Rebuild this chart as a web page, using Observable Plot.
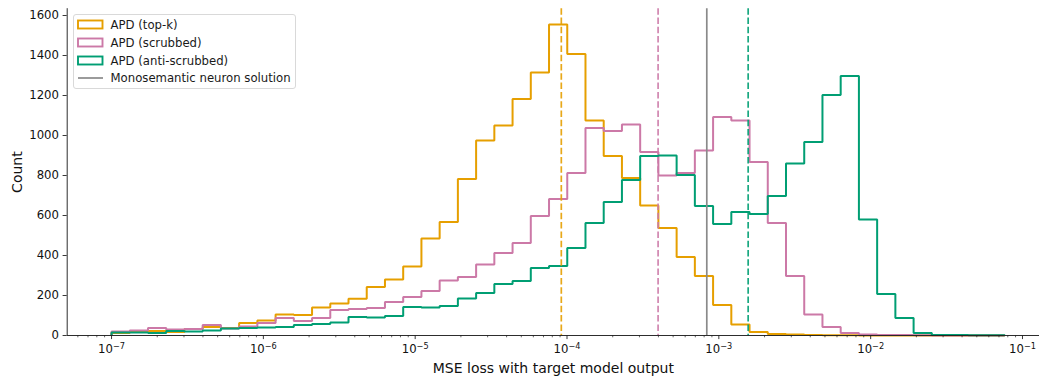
<!DOCTYPE html>
<html>
<head>
<meta charset="utf-8">
<script src="https://cdn.jsdelivr.net/npm/d3@7"></script>
<script src="https://cdn.jsdelivr.net/npm/@observablehq/plot@0.6"></script>
<style>
  body { margin: 0; background: #fff; }
  #chart { position: relative; width: 1039px; height: 377px; font-family: "DejaVu Sans", sans-serif; }
  #chart svg { display: block; }
  .legend { position: absolute; left: 72.5px; top: 14px; width: 223px; height: 74.5px; box-sizing: border-box;
            border: 1px solid #d9d9d9; border-radius: 3px; background: rgba(255,255,255,0.85);
            font-size: 11.7px; color: #1a1a1a; }
  .row { position: absolute; left: 0; height: 14px; line-height: 14px; white-space: nowrap; }
  .row svg { position: absolute; left: 3.5px; top: 1px; }
  .row span { position: absolute; left: 37px; top: 0; }
</style>
</head>
<body>
<div id="chart"></div>
<script>
// ---- Data ----
const binLo = 1e-7;          // first bin edge
const binHi = 0.0764;        // last bin edge
const nBins = 49;            // log-spaced bins

const seriesNames = ["APD (top-k)", "APD (scrubbed)", "APD (anti-scrubbed)"];
const seriesColors = ["#E69F00", "#CC79A7", "#009E73"];

const countsTopK = [12, 20, 22, 17, 33, 42, 38, 63, 75, 105, 102, 140, 160, 184, 243, 280, 345, 485, 568, 783,
  975, 1050, 1183, 1315, 1555, 1407, 1075, 898, 787, 650, 538, 392, 298, 152, 55, 17, 8, 5, 2, 1,
  1, 0, 0, 0, 0, 0, 0, 0, 0];
const countsScrubbed = [20, 25, 37, 30, 33, 53, 35, 45, 63, 87, 73, 87, 128, 133, 137, 167, 193, 222, 275, 292,
  355, 413, 463, 597, 683, 812, 1038, 1022, 1055, 917, 800, 813, 925, 1092, 1075, 867, 563, 297, 105, 42,
  13, 5, 2, 2, 1, 0, 0, 0, 0];
const countsAnti = [15, 15, 12, 22, 20, 25, 35, 37, 40, 42, 53, 57, 65, 92, 90, 97, 143, 140, 147, 185,
  213, 258, 272, 338, 347, 438, 563, 667, 778, 897, 900, 803, 647, 558, 617, 608, 697, 860, 968, 1203,
  1297, 580, 208, 88, 13, 3, 2, 1, 1];

const meanLines = [9.17e-5, 3.98e-4, 1.56e-3];   // dashed, per series
const monoSolution = 8.33e-4;                     // gray solid line
const monoLabel = "Monosemantic neuron solution";

const xTicks = [1e-7, 1e-6, 1e-5, 1e-4, 1e-3, 1e-2, 1e-1];
const xTickBase = "10";
const xTickExps = ["−7", "−6", "−5", "−4", "−3", "−2", "−1"];
const yTicks = [0, 200, 400, 600, 800, 1000, 1200, 1400, 1600];
const xLabel = "MSE loss with target model output";
const yLabel = "Count";

// ---- Build ----
const lo = Math.log10(binLo), hi = Math.log10(binHi);
const edges = d3.range(nBins + 1).map(i => Math.pow(10, lo + (hi - lo) * i / nBins));
function stepPoints(counts, series) {
  const pts = [{x: edges[0], y: 0, s: series}];
  counts.forEach((c, i) => { pts.push({x: edges[i], y: c, s: series}); pts.push({x: edges[i + 1], y: c, s: series}); });
  pts.push({x: edges[nBins], y: 0, s: series});
  return pts;
}
const allCounts = [countsTopK, countsScrubbed, countsAnti];
const minorTicks = [];
for (let k = -8; k <= -1; k++) for (let m = 2; m <= 9; m++) minorTicks.push(m * Math.pow(10, k));
const xDomain = [Math.pow(10, -7.292), Math.pow(10, -0.888)];
const minorIn = minorTicks.filter(v => v >= xDomain[0] && v <= xDomain[1]);

const marks = [];
allCounts.forEach((counts, i) => {
  marks.push(Plot.line(stepPoints(counts, i), {x: "x", y: "y", stroke: seriesColors[i], strokeWidth: 2,
    strokeLinejoin: "miter", strokeLinecap: "butt"}));
});
meanLines.forEach((v, i) => {
  marks.push(Plot.ruleX([v], {stroke: seriesColors[i], strokeWidth: 1.7, strokeDasharray: "6.5,2.8", strokeOpacity: 0.9}));
});
marks.push(Plot.ruleX([monoSolution], {stroke: "#8a8a8a", strokeWidth: 1.7}));
// spines
marks.push(Plot.ruleY([0], {stroke: "#222", strokeWidth: 0.95}));
marks.push(Plot.ruleX([xDomain[0]], {stroke: "#222", strokeWidth: 0.95}));
// axes
marks.push(Plot.axisX({ticks: minorIn, tickSize: 2.3, tickFormat: () => "", stroke: "#222", strokeWidth: 0.7, label: null}));
marks.push(Plot.axisX({ticks: xTicks, tickSize: 4.1, tickPadding: 5.5,
  tickFormat: d => xTickBase + xTickExps[xTicks.indexOf(d)],
  stroke: "#222", strokeWidth: 0.9, label: null, fontSize: 11.7, className: "xmajor"}));
marks.push(Plot.axisY({ticks: yTicks, tickSize: 4.1, tickPadding: 4.1, tickFormat: d => String(d),
  stroke: "#222", strokeWidth: 0.9, label: null, fontSize: 11.7}));
marks.push(Plot.text([xLabel], {frameAnchor: "bottom", dy: 37, fontSize: 14, fill: "#111", textAnchor: "middle", lineAnchor: "bottom"}));
marks.push(Plot.text([yLabel], {frameAnchor: "left", dx: -50, rotate: -90, fontSize: 14, fill: "#111", textAnchor: "middle"}));

const chart = Plot.plot({
  width: 1039, height: 377,
  marginLeft: 66.7, marginRight: 0, marginTop: 8.2, marginBottom: 42,
  x: {type: "log", domain: xDomain},
  y: {domain: [0, 1634]},
  style: {fontFamily: "DejaVu Sans", fontSize: "11.7px", color: "#111", background: "#fff", overflow: "visible"},
  marks
});
const root = document.getElementById("chart");
root.appendChild(chart);

// superscript exponents on the major x tick labels (like mathtext 10^{-k})
d3.select(chart).selectAll("g.xmajor text").each(function() {
  const t = d3.select(this);
  const s = t.text();
  if (!s.startsWith(xTickBase)) return;
  const exp = s.slice(xTickBase.length);
  t.text(null);
  t.append("tspan").text(xTickBase);
  t.append("tspan").attr("font-size", "8.2px").attr("dy", "-0.55em").text(exp);
});

// legend overlay
const legend = document.createElement("div");
legend.className = "legend";
const rowTops = [3, 21, 39, 56.3];
seriesNames.forEach((name, i) => {
  const r = document.createElement("div");
  r.className = "row"; r.style.top = rowTops[i] + "px";
  r.innerHTML = `<svg width="27" height="12"><rect x="1" y="1.5" width="24.5" height="8" fill="#fff" stroke="${seriesColors[i]}" stroke-width="1.9"/></svg><span></span>`;
  r.querySelector("span").textContent = name;
  legend.appendChild(r);
});
const r4 = document.createElement("div");
r4.className = "row"; r4.style.top = rowTops[3] + "px";
r4.innerHTML = `<svg width="27" height="12"><line x1="1" x2="26" y1="6" y2="6" stroke="#8a8a8a" stroke-width="1.7"/></svg><span></span>`;
r4.querySelector("span").textContent = monoLabel;
legend.appendChild(r4);
root.appendChild(legend);
</script>
</body>
</html>
